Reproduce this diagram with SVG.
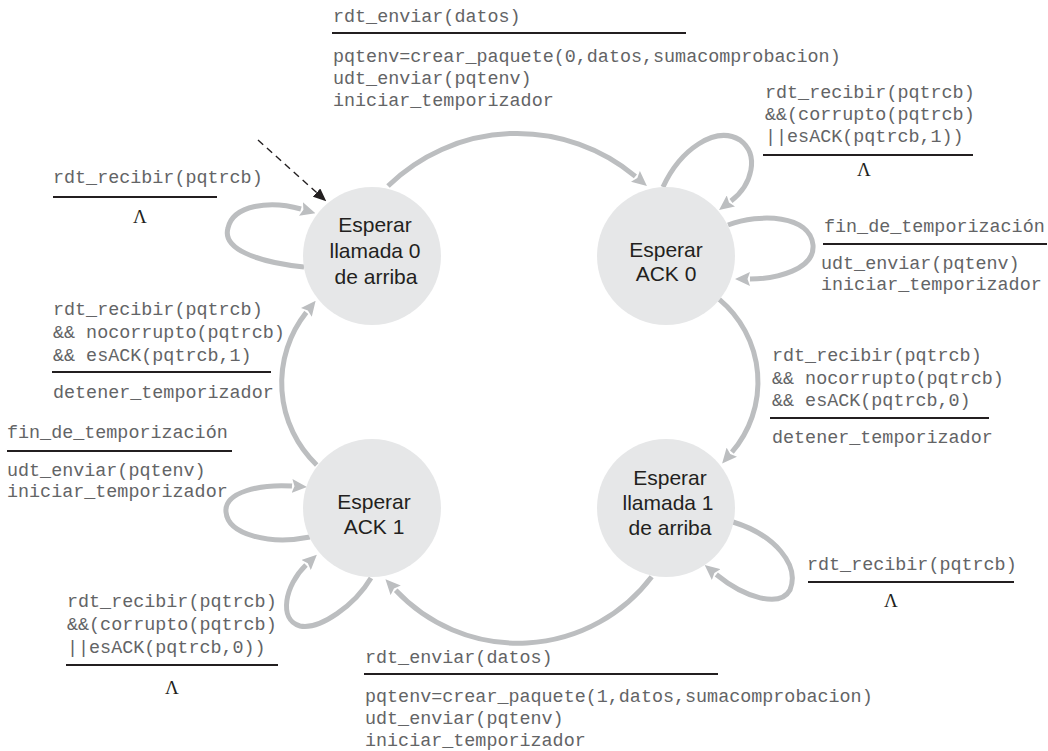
<svg xmlns="http://www.w3.org/2000/svg" width="1048" height="751" viewBox="0 0 1048 751">
<style>
.node{fill:#e6e7e8;stroke:none}
.nt{font-family:"Liberation Sans",Arial,sans-serif;font-size:21px;fill:#231f20;text-anchor:middle}
.c{fill:none;stroke:#bcbec0;stroke-width:5;marker-end:url(#ag)}
.init{fill:none;stroke:#231f20;stroke-width:1.4;stroke-dasharray:7 5;marker-end:url(#ab)}
.m{font-family:"Liberation Mono","Courier New",monospace;font-size:18.4px;fill:#636466}
.bar{stroke:#231f20;stroke-width:2.2}
.lam{font-family:"Liberation Serif","Times New Roman",serif;font-size:19px;fill:#231f20;text-anchor:middle}
</style>
<defs>
<marker id="ag" viewBox="0 0 15 14" refX="0" refY="7" markerWidth="15" markerHeight="14" markerUnits="userSpaceOnUse" orient="auto"><path d="M0,0 L15,7 L0,14 L2.5,7 Z" fill="#bcbec0"/></marker>
<marker id="ab" viewBox="0 0 13 11" refX="0" refY="5.5" markerWidth="13" markerHeight="11" markerUnits="userSpaceOnUse" orient="auto"><path d="M0,0 L13,5.5 L0,11 Z" fill="#231f20"/></marker>
</defs>

<g id="connectors">
<path class="c" d="M388,186 A184.8,184.8 0 0,1 635.4,176.3"/>
<path class="c" d="M719.3,299.3 A107.7,107.7 0 0,1 731.9,452.2"/>
<path class="c" d="M651.7,576.7 A167.7,167.7 0 0,1 395.7,590.3"/>
<path class="c" d="M316.7,465 A113.6,113.6 0 0,1 306.3,312.4"/>
<path class="c" d="M304,267 C255,262 222,248 228,228 C233,205 270,200 301,209"/>
<path class="c" d="M663,187 C680,150 715,125 740,140 C760,155 752,185 731,201"/>
<path class="c" d="M728,225 C760,213 810,215 813,245 C815,270 775,279 750,279"/>
<path class="c" d="M733,522 C775,535 800,565 790,590 C780,608 745,598 716.3,574.5"/>
<path class="c" d="M310,537 C270,545 228,535 226,512 C224,492 260,484 292,486"/>
<path class="c" d="M371,578 C355,605 320,630 300,626 C278,620 285,585 306,565"/>
<path class="init" d="M258,140 L316.6,192.6"/>
</g>

<g id="esperar-llamada-0">
<circle class="node" cx="372" cy="256" r="69"/>
<text class="nt" x="375" y="232">Esperar</text>
<text class="nt" x="375" y="258">llamada 0</text>
<text class="nt" x="376" y="284">de arriba</text>
</g>
<g id="esperar-ack-0">
<circle class="node" cx="666" cy="256" r="69"/>
<text class="nt" x="666" y="257">Esperar</text>
<text class="nt" x="666" y="281">ACK 0</text>
</g>
<g id="esperar-llamada-1">
<circle class="node" cx="666" cy="508" r="69"/>
<text class="nt" x="670" y="485">Esperar</text>
<text class="nt" x="668" y="510">llamada 1</text>
<text class="nt" x="670" y="535">de arriba</text>
</g>
<g id="esperar-ack-1">
<circle class="node" cx="372" cy="508" r="69"/>
<text class="nt" x="374" y="509">Esperar</text>
<text class="nt" x="374" y="534">ACK 1</text>
</g>

<g id="label-top">
<text class="m" x="333" y="22">rdt_enviar(datos)</text>
<line class="bar" x1="332" y1="33" x2="686" y2="33"/>
<text class="m" x="333" y="62">pqtenv=crear_paquete(0,datos,sumacomprobacion)</text>
<text class="m" x="333" y="84">udt_enviar(pqtenv)</text>
<text class="m" x="333" y="106">iniciar_temporizador</text>
</g>
<g id="label-a">
<text class="m" x="53" y="183">rdt_recibir(pqtrcb)</text>
<line class="bar" x1="53" y1="197" x2="217" y2="197"/>
<text class="lam" x="140" y="223">Λ</text>
</g>
<g id="label-b">
<text class="m" x="53" y="315">rdt_recibir(pqtrcb)</text>
<text class="m" x="53" y="338">&amp;&amp; nocorrupto(pqtrcb)</text>
<text class="m" x="53" y="361">&amp;&amp; esACK(pqtrcb,1)</text>
<line class="bar" x1="52" y1="372" x2="271" y2="372"/>
<text class="m" x="53" y="398">detener_temporizador</text>
</g>
<g id="label-c">
<text class="m" x="7" y="438">fin_de_temporización</text>
<line class="bar" x1="7" y1="451" x2="232" y2="451"/>
<text class="m" x="7" y="476">udt_enviar(pqtenv)</text>
<text class="m" x="7" y="497">iniciar_temporizador</text>
</g>
<g id="label-d">
<text class="m" x="765" y="98">rdt_recibir(pqtrcb)</text>
<text class="m" x="765" y="120">&amp;&amp;(corrupto(pqtrcb)</text>
<text class="m" x="765" y="142">||esACK(pqtrcb,1))</text>
<line class="bar" x1="763" y1="155" x2="973" y2="155"/>
<text class="lam" x="864" y="176">Λ</text>
</g>
<g id="label-e">
<text class="m" x="824" y="232">fin_de_temporización</text>
<line class="bar" x1="823" y1="244" x2="1047" y2="244"/>
<text class="m" x="821" y="269">udt_enviar(pqtenv)</text>
<text class="m" x="821" y="290">iniciar_temporizador</text>
</g>
<g id="label-f">
<text class="m" x="772" y="361">rdt_recibir(pqtrcb)</text>
<text class="m" x="772" y="384">&amp;&amp; nocorrupto(pqtrcb)</text>
<text class="m" x="772" y="406">&amp;&amp; esACK(pqtrcb,0)</text>
<line class="bar" x1="770" y1="418" x2="989" y2="418"/>
<text class="m" x="772" y="443">detener_temporizador</text>
</g>
<g id="label-g">
<text class="m" x="807" y="570">rdt_recibir(pqtrcb)</text>
<line class="bar" x1="808" y1="582" x2="1014" y2="582"/>
<text class="lam" x="891" y="607">Λ</text>
</g>
<g id="label-h">
<text class="m" x="67" y="607">rdt_recibir(pqtrcb)</text>
<text class="m" x="67" y="630">&amp;&amp;(corrupto(pqtrcb)</text>
<text class="m" x="67" y="653">||esACK(pqtrcb,0))</text>
<line class="bar" x1="66" y1="665" x2="278" y2="665"/>
<text class="lam" x="172" y="694">Λ</text>
</g>
<g id="label-bottom">
<text class="m" x="365" y="663">rdt_enviar(datos)</text>
<line class="bar" x1="364" y1="674" x2="718" y2="674"/>
<text class="m" x="365" y="702">pqtenv=crear_paquete(1,datos,sumacomprobacion)</text>
<text class="m" x="365" y="724">udt_enviar(pqtenv)</text>
<text class="m" x="365" y="746">iniciar_temporizador</text>
</g>
</svg>
